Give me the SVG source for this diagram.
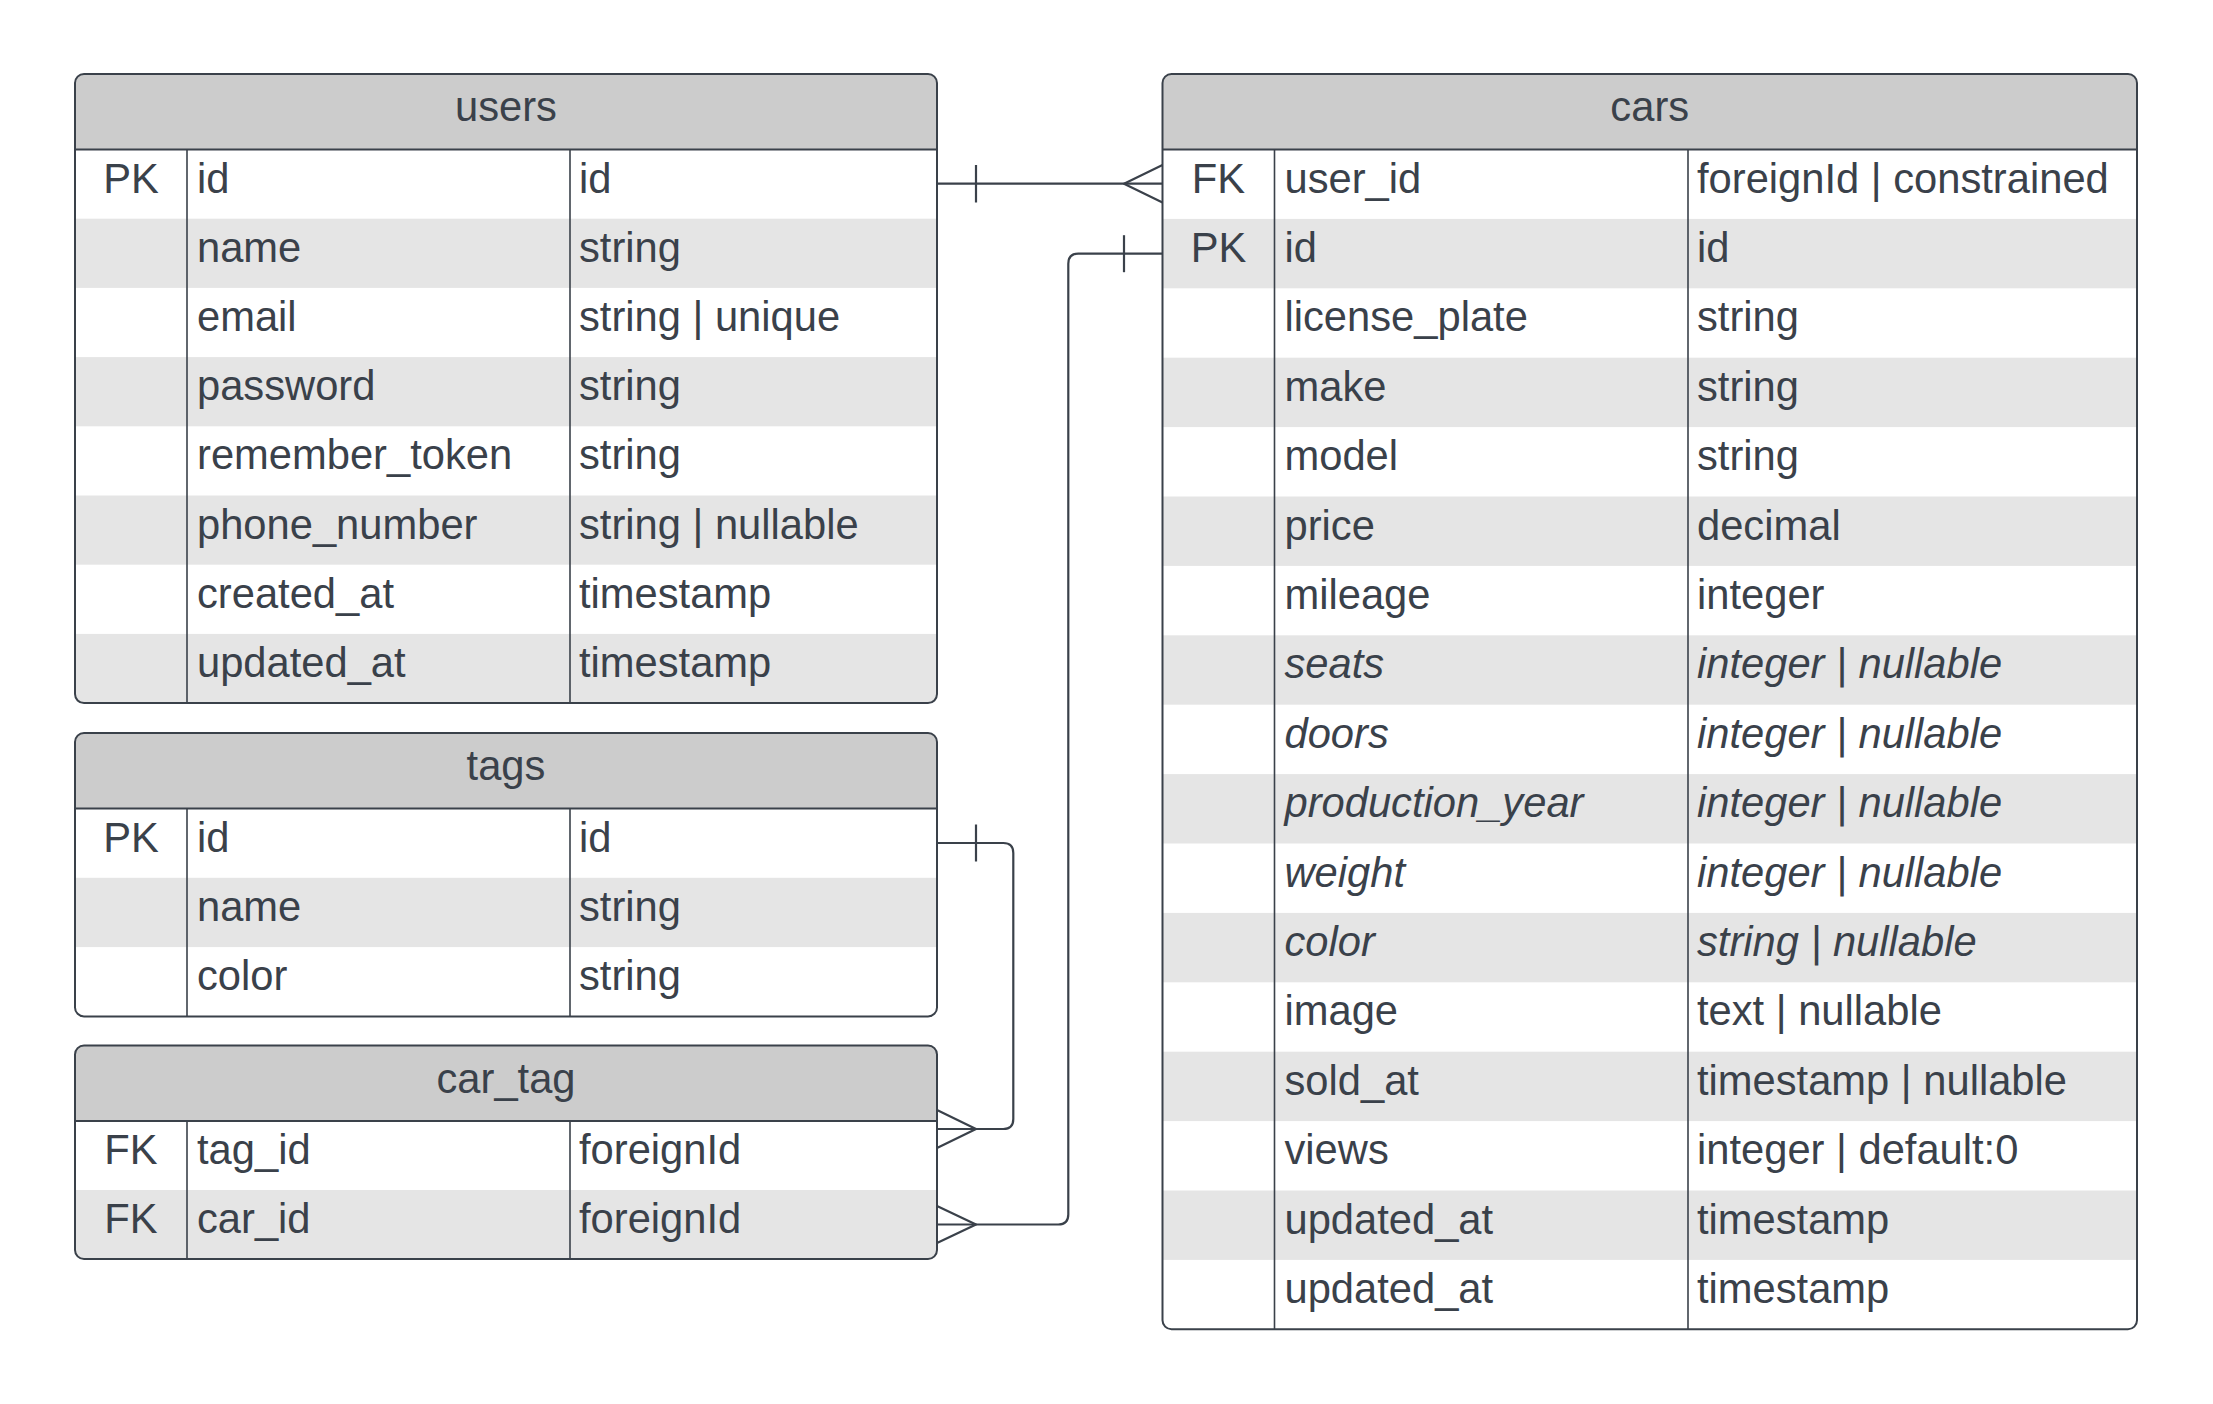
<svg xmlns="http://www.w3.org/2000/svg" width="2213" height="1404" viewBox="0 0 2213 1404">
<style>
  text { font-family: "Liberation Sans", Arial, sans-serif; font-size: 41.7px; fill: #3a414a; }
  .hd { text-anchor: middle; }
  .k { text-anchor: middle; }
  .it { font-style: italic; }
  .bg { fill: #ffffff; }
  .hf { fill: #cccccc; }
  .alt { fill: #e5e5e5; }
  .frame { fill: none; stroke: #3a414a; stroke-width: 2; }
  .sep { stroke: #3a414a; stroke-width: 2; }
  .div { stroke: #3a414a; stroke-width: 1.6; }
  .conn { fill: none; stroke: #3a414a; stroke-width: 2.2; stroke-linejoin: round; }
</style>
<defs>
  <clipPath id="clip-users"><rect x="75" y="74" width="862" height="629.1" rx="9"/></clipPath>
  <clipPath id="clip-cars"><rect x="1162.5" y="74" width="974.5" height="1255.3" rx="9"/></clipPath>
  <clipPath id="clip-tags"><rect x="75" y="733" width="862" height="283.4" rx="9"/></clipPath>
  <clipPath id="clip-cartag"><rect x="75" y="1045.5" width="862" height="213.5" rx="9"/></clipPath>
</defs>
<rect width="2213" height="1404" fill="#ffffff"/>

<g id="users">
  <g clip-path="url(#clip-users)">
    <rect class="bg" x="75" y="74" width="862" height="629.1"/>
    <rect class="hf" x="75" y="74" width="862" height="75.5"/>
    <rect class="alt" x="75" y="218.7" width="862" height="69.2"/>
    <rect class="alt" x="75" y="357.1" width="862" height="69.2"/>
    <rect class="alt" x="75" y="495.5" width="862" height="69.2"/>
    <rect class="alt" x="75" y="633.9" width="862" height="69.2"/>
  </g>
  <line class="sep" x1="75" y1="149.5" x2="937" y2="149.5"/>
  <line class="div" x1="187" y1="149.5" x2="187" y2="703.1"/>
  <line class="div" x1="570" y1="149.5" x2="570" y2="703.1"/>
  <rect class="frame" x="75" y="74" width="862" height="629.1" rx="9"/>
  <text class="hd" x="506" y="121">users</text>
  <text class="k" x="131" y="192.6">PK</text>
  <text x="197" y="192.6">id</text><text x="579" y="192.6">id</text>
  <text x="197" y="261.8">name</text><text x="579" y="261.8">string</text>
  <text x="197" y="331">email</text><text x="579" y="331">string | unique</text>
  <text x="197" y="400.2">password</text><text x="579" y="400.2">string</text>
  <text x="197" y="469.4">remember_token</text><text x="579" y="469.4">string</text>
  <text x="197" y="538.6">phone_number</text><text x="579" y="538.6">string | nullable</text>
  <text x="197" y="607.8">created_at</text><text x="579" y="607.8">timestamp</text>
  <text x="197" y="677">updated_at</text><text x="579" y="677">timestamp</text>
</g>

<g id="cars">
  <g clip-path="url(#clip-cars)">
    <rect class="bg" x="1162.5" y="74" width="974.5" height="1255.3"/>
    <rect class="hf" x="1162.5" y="74" width="974.5" height="75.5"/>
    <rect class="alt" x="1162.5" y="218.9" width="974.5" height="69.4"/>
    <rect class="alt" x="1162.5" y="357.7" width="974.5" height="69.4"/>
    <rect class="alt" x="1162.5" y="496.5" width="974.5" height="69.4"/>
    <rect class="alt" x="1162.5" y="635.3" width="974.5" height="69.4"/>
    <rect class="alt" x="1162.5" y="774.1" width="974.5" height="69.4"/>
    <rect class="alt" x="1162.5" y="912.9" width="974.5" height="69.4"/>
    <rect class="alt" x="1162.5" y="1051.7" width="974.5" height="69.4"/>
    <rect class="alt" x="1162.5" y="1190.5" width="974.5" height="69.4"/>
  </g>
  <line class="sep" x1="1162.5" y1="149.5" x2="2137" y2="149.5"/>
  <line class="div" x1="1274.5" y1="149.5" x2="1274.5" y2="1329.3"/>
  <line class="div" x1="1688" y1="149.5" x2="1688" y2="1329.3"/>
  <rect class="frame" x="1162.5" y="74" width="974.5" height="1255.3" rx="9"/>
  <text class="hd" x="1649.75" y="121">cars</text>
  <text class="k" x="1218.5" y="192.6">FK</text>
  <text x="1284.5" y="192.6">user_id</text><text x="1697" y="192.6">foreignId | constrained</text>
  <text class="k" x="1218.5" y="262">PK</text>
  <text x="1284.5" y="262">id</text><text x="1697" y="262">id</text>
  <text x="1284.5" y="331.4">license_plate</text><text x="1697" y="331.4">string</text>
  <text x="1284.5" y="400.8">make</text><text x="1697" y="400.8">string</text>
  <text x="1284.5" y="470.2">model</text><text x="1697" y="470.2">string</text>
  <text x="1284.5" y="539.6">price</text><text x="1697" y="539.6">decimal</text>
  <text x="1284.5" y="609">mileage</text><text x="1697" y="609">integer</text>
  <text class="it" x="1284.5" y="678.4">seats</text><text class="it" x="1697" y="678.4">integer | nullable</text>
  <text class="it" x="1284.5" y="747.8">doors</text><text class="it" x="1697" y="747.8">integer | nullable</text>
  <text class="it" x="1284.5" y="817.2">production_year</text><text class="it" x="1697" y="817.2">integer | nullable</text>
  <text class="it" x="1284.5" y="886.6">weight</text><text class="it" x="1697" y="886.6">integer | nullable</text>
  <text class="it" x="1284.5" y="956">color</text><text class="it" x="1697" y="956">string | nullable</text>
  <text x="1284.5" y="1025.4">image</text><text x="1697" y="1025.4">text | nullable</text>
  <text x="1284.5" y="1094.8">sold_at</text><text x="1697" y="1094.8">timestamp | nullable</text>
  <text x="1284.5" y="1164.2">views</text><text x="1697" y="1164.2">integer | default:0</text>
  <text x="1284.5" y="1233.6">updated_at</text><text x="1697" y="1233.6">timestamp</text>
  <text x="1284.5" y="1303">updated_at</text><text x="1697" y="1303">timestamp</text>
</g>

<g id="tags">
  <g clip-path="url(#clip-tags)">
    <rect class="bg" x="75" y="733" width="862" height="283.4"/>
    <rect class="hf" x="75" y="733" width="862" height="75.5"/>
    <rect class="alt" x="75" y="877.8" width="862" height="69.3"/>
  </g>
  <line class="sep" x1="75" y1="808.5" x2="937" y2="808.5"/>
  <line class="div" x1="187" y1="808.5" x2="187" y2="1016.4"/>
  <line class="div" x1="570" y1="808.5" x2="570" y2="1016.4"/>
  <rect class="frame" x="75" y="733" width="862" height="283.4" rx="9"/>
  <text class="hd" x="506" y="780">tags</text>
  <text class="k" x="131" y="851.6">PK</text>
  <text x="197" y="851.6">id</text><text x="579" y="851.6">id</text>
  <text x="197" y="920.9">name</text><text x="579" y="920.9">string</text>
  <text x="197" y="990.2">color</text><text x="579" y="990.2">string</text>
</g>

<g id="car_tag">
  <g clip-path="url(#clip-cartag)">
    <rect class="bg" x="75" y="1045.5" width="862" height="213.5"/>
    <rect class="hf" x="75" y="1045.5" width="862" height="75.5"/>
    <rect class="alt" x="75" y="1190" width="862" height="69"/>
  </g>
  <line class="sep" x1="75" y1="1121" x2="937" y2="1121"/>
  <line class="div" x1="187" y1="1121" x2="187" y2="1259"/>
  <line class="div" x1="570" y1="1121" x2="570" y2="1259"/>
  <rect class="frame" x="75" y="1045.5" width="862" height="213.5" rx="9"/>
  <text class="hd" x="506" y="1092.5">car_tag</text>
  <text class="k" x="131" y="1164.1">FK</text>
  <text x="197" y="1164.1">tag_id</text><text x="579" y="1164.1">foreignId</text>
  <text class="k" x="131" y="1233.1">FK</text>
  <text x="197" y="1233.1">car_id</text><text x="579" y="1233.1">foreignId</text>
</g>

<g id="connectors">
  <!-- users.id to cars.user_id -->
  <path class="conn" d="M937,183.7 H1162.5"/>
  <path class="conn" d="M976,165 V202.5"/>
  <path class="conn" d="M1162.5,165 L1124,183.7 L1162.5,202.5"/>
  <!-- cars.id to car_tag.car_id -->
  <path class="conn" d="M1162.5,253.7 H1078.3 Q1068.3,253.7 1068.3,263.7 V1214.5 Q1068.3,1224.5 1058.3,1224.5 H937"/>
  <path class="conn" d="M1124,235.2 V272.2"/>
  <path class="conn" d="M937,1206 L976,1224.5 L937,1243"/>
  <!-- tags.id to car_tag.tag_id -->
  <path class="conn" d="M937,843 H1003.3 Q1013.3,843 1013.3,853 V1119 Q1013.3,1129 1003.3,1129 H937"/>
  <path class="conn" d="M976,824.5 V861.5"/>
  <path class="conn" d="M937,1110 L976,1129 L937,1148"/>
</g>
</svg>
